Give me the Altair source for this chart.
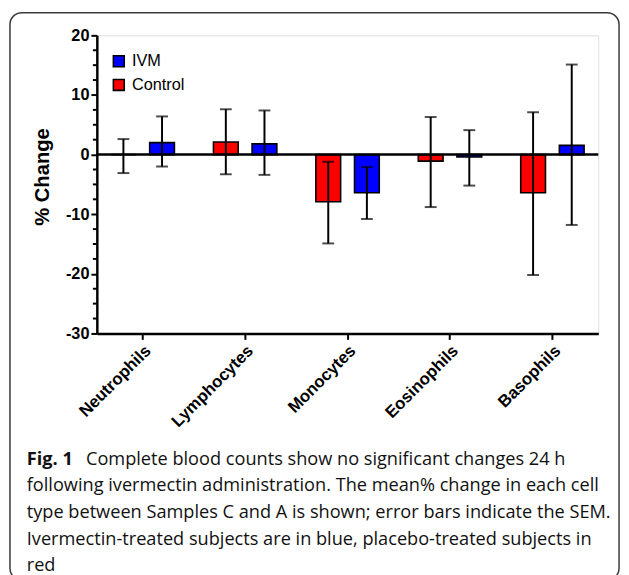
import altair as alt
import pandas as pd

categories = ["Neutrophils", "Lymphocytes", "Monocytes", "Eosinophils", "Basophils"]
groups = ["IVM", "Control"]
control_mean = [0.0, 2.1, -7.9, -1.1, -6.4]
control_lower = [-3.1, -3.3, -14.9, -8.8, -20.2]
control_upper = [2.6, 7.6, -1.2, 6.3, 7.1]
ivm_mean = [2.0, 1.8, -6.4, -0.4, 1.55]
ivm_lower = [-2.0, -3.4, -10.8, -5.2, -11.8]
ivm_upper = [6.4, 7.4, -2.1, 4.1, 15.1]
y_major = [-30, -20, -10, 0, 10, 20]
y_minor = [-27.5, -25, -22.5, -17.5, -15, -12.5, -7.5, -5, -2.5,
           2.5, 5, 7.5, 12.5, 15, 17.5]
caption_lines = [
    "Complete blood counts show no significant changes 24 h",
    "following ivermectin administration. The mean% change in each cell",
    "type between Samples C and A is shown; error bars indicate the SEM.",
    "Ivermectin-treated subjects are in blue, placebo-treated subjects in",
    "red",
]

rows = []
for i, c in enumerate(categories):
    rows.append(dict(cell=c, group="Control", mean=control_mean[i],
                     lo=control_lower[i], hi=control_upper[i]))
    rows.append(dict(cell=c, group="IVM", mean=ivm_mean[i],
                     lo=ivm_lower[i], hi=ivm_upper[i]))
df = pd.DataFrame(rows)

W, H = 508, 302
AX = "Liberation Sans"
CAP = "Open Sans"

xscale = alt.Scale(domain=categories, paddingInner=0.2, paddingOuter=0.048)
xoff = alt.XOffset("group:N", scale=alt.Scale(domain=["Control", "IVM"],
                                               paddingInner=0.359, paddingOuter=0.24))
yscale = alt.Scale(domain=[-30, 20], nice=False, zero=False)

base = alt.Chart(df)

bars = base.mark_bar(stroke="black", strokeWidth=1.6).encode(
    x=alt.X("cell:N", scale=xscale, sort=categories,
            axis=alt.Axis(title=None, labelAngle=315, labelAlign="right",
                          labelBaseline="top", labelFont=AX, labelFontSize=17,
                          labelFontWeight="bold", labelColor="black",
                          labelPadding=3, tickSize=6, tickWidth=2,
                          tickColor="black", domainColor="black",
                          domainWidth=2.5, grid=False)),
    xOffset=xoff,
    y=alt.Y("mean:Q", scale=yscale,
            axis=alt.Axis(title="% Change", values=y_major,
                          labelExpr="replace(datum.label, '\u2212', '-')",
                          titleFont=AX, titleFontSize=20.5, titleFontWeight="bold",
                          titleColor="black", titleX=-45, titleY=143,
                          labelFont=AX, labelFontSize=16.5, labelFontWeight="bold",
                          labelColor="black", labelPadding=2, tickSize=6,
                          tickWidth=2, tickColor="black", domainColor="black",
                          domainWidth=2.5, grid=False)),
    y2=alt.datum(0),
    color=alt.Color("group:N", scale=alt.Scale(domain=groups, range=["#0000ff", "#ff0000"]),
                    legend=alt.Legend(title=None, orient="none", legendX=14, legendY=18,
                                      symbolType="square", symbolSize=121,
                                      symbolStrokeColor="black", symbolStrokeWidth=1.6,
                                      labelFont=AX, labelFontSize=16.5, labelColor="black",
                                      labelOffset=5, rowPadding=6, padding=0)),
)

err = base.mark_rule(color="black", strokeWidth=2).encode(
    x=alt.X("cell:N", scale=xscale, sort=categories),
    xOffset=xoff,
    y=alt.Y("lo:Q", scale=yscale),
    y2="hi:Q",
)
cap_hi = base.mark_tick(color="black", thickness=2, size=12).encode(
    x=alt.X("cell:N", scale=xscale, sort=categories),
    xOffset=xoff,
    y=alt.Y("hi:Q", scale=yscale),
)
cap_lo = base.mark_tick(color="black", thickness=2, size=12).encode(
    x=alt.X("cell:N", scale=xscale, sort=categories),
    xOffset=xoff,
    y=alt.Y("lo:Q", scale=yscale),
)

zero = alt.Chart(pd.DataFrame({"z": [0]})).mark_rule(color="black", strokeWidth=2.5).encode(
    y=alt.Y("z:Q", scale=yscale), x=alt.value(0), x2=alt.value(W))

minor = alt.Chart(pd.DataFrame({"v": y_minor})).mark_rule(color="black", strokeWidth=2).encode(
    y=alt.Y("v:Q", scale=yscale), x=alt.value(-4), x2=alt.value(0))

one = pd.DataFrame({"a": [0]})
box = alt.Chart(one).mark_rect(filled=False, stroke="#3a3a3a", strokeWidth=1.5,
                               cornerRadius=12).encode(
    x=alt.value(-88), x2=alt.value(529), y=alt.value(-23), y2=alt.value(552))

cap_y = [435, 462, 489, 516, 543]
texts = [alt.Chart(one).mark_text(text="Fig. 1", font=CAP, fontSize=18.4, fontWeight="bold",
                                  align="left", baseline="alphabetic", color="#111").encode(
    x=alt.value(-71), y=alt.value(cap_y[0]))]
for i, line in enumerate(caption_lines):
    texts.append(alt.Chart(one).mark_text(text=line, font=CAP, fontSize=18.4,
                                          align="left", baseline="alphabetic",
                                          color="#111").encode(
        x=alt.value(-11 if i == 0 else -71), y=alt.value(cap_y[i])))

chart = alt.layer(box, minor, bars, err, cap_hi, cap_lo, zero, *texts).properties(
    width=W, height=H,
    autosize=alt.AutoSizeParams(type="none"),
    padding={"left": 90, "top": 24, "right": 23, "bottom": 241},
).configure_view(stroke=None).configure(background="white")

chart.save("out.html", embed_options={"renderer": "svg", "actions": False})
